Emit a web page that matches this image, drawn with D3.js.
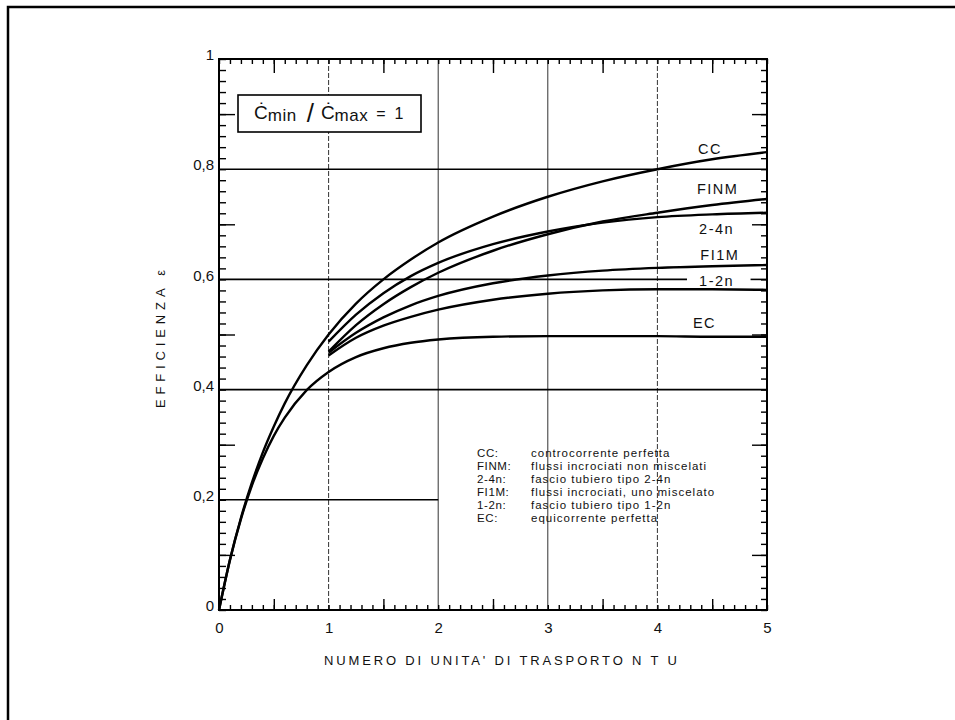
<!DOCTYPE html>
<html lang="it">
<head>
    <meta charset="UTF-8">
    <title>Efficienza scambiatori - NTU</title>
    <script src="https://d3js.org/d3.v7.min.js"></script>
    <style>
        body { margin: 0; background: #fff; }
        svg text { font-family: "Liberation Sans", Arial, sans-serif; fill: #111; }
    </style>
</head>
<body>
<script>
// valori (Cmin/Cmax = 1)
const ntuFull = [0, 0.1, 0.2, 0.3, 0.4, 0.5, 0.6, 0.8, 1, 1.25, 1.5, 1.75, 2, 2.5, 3, 3.5, 4, 4.5, 5];
const ccVals  = [0, 0.091, 0.167, 0.231, 0.286, 0.333, 0.375, 0.444, 0.5, 0.556, 0.6, 0.636, 0.667, 0.714, 0.75, 0.778, 0.8, 0.818, 0.831];
const ecVals  = [0, 0.091, 0.165, 0.226, 0.275, 0.316, 0.349, 0.399, 0.432, 0.459, 0.475, 0.485, 0.491, 0.496, 0.497, 0.497, 0.497, 0.496, 0.496];

// le altre curve partono da NTU = 1
const ntuLate  = [1, 1.25, 1.5, 1.75, 2, 2.5, 3, 3.5, 4, 4.5, 5];
const finmVals = [0.469, 0.517, 0.555, 0.586, 0.612, 0.652, 0.682, 0.705, 0.721, 0.735, 0.746];
const hx24Vals = [0.487, 0.536, 0.575, 0.606, 0.630, 0.664, 0.687, 0.703, 0.713, 0.718, 0.721];
const fi1mVals = [0.467, 0.503, 0.531, 0.553, 0.570, 0.593, 0.607, 0.616, 0.621, 0.624, 0.626];
const hx12Vals = [0.462, 0.494, 0.516, 0.532, 0.545, 0.563, 0.574, 0.580, 0.582, 0.582, 0.581];

const curveNames = ["CC", "FINM", "2-4n", "FI1M", "1-2n", "EC"];
const xTicks = [0, 1, 2, 3, 4, 5];
const yTicks = [0, 0.2, 0.4, 0.6, 0.8, 1];

const legendCodes = ["CC:", "FINM:", "2-4n:", "FI1M:", "1-2n:", "EC:"];
const legendTexts = [
    "controcorrente perfetta",
    "flussi incrociati non miscelati",
    "fascio tubiero tipo 2-4n",
    "flussi incrociati, uno miscelato",
    "fascio tubiero tipo 1-2n",
    "equicorrente perfetta"
];

const W = 955, H = 720;
const x = d3.scaleLinear([0, 5], [219, 767]);
const y = d3.scaleLinear([0, 1], [610, 59]);

const svg = d3.select("body").append("svg")
    .attr("width", W)
    .attr("height", H);

// cornice esterna (solo lati visibili)
svg.append("path")
    .attr("d", "M8,720 V7 H955")
    .attr("fill", "none")
    .attr("stroke", "#000")
    .attr("stroke-width", 2.5);

const plot = svg.append("g");

// griglia verticale
plot.selectAll("line.vgrid")
    .data([1, 2, 3, 4])
    .enter().append("line")
    .attr("class", "vgrid")
    .attr("x1", d => x(d)).attr("x2", d => x(d))
    .attr("y1", y(0)).attr("y2", y(1))
    .attr("stroke", "#333")
    .attr("stroke-width", 1)
    .attr("stroke-dasharray", d => (d === 1 || d === 4) ? "5,2" : null);

// griglia orizzontale (0,2 arriva solo a NTU 2, 0,6 interrotta dall'etichetta)
const hgrid = [[0.2, 0, 2], [0.4, 0, 5], [0.6, 0, 4.27], [0.6, 4.85, 5], [0.8, 0, 5]];
plot.selectAll("line.hgrid")
    .data(hgrid)
    .enter().append("line")
    .attr("class", "hgrid")
    .attr("x1", d => x(d[1])).attr("x2", d => x(d[2]))
    .attr("y1", d => y(d[0])).attr("y2", d => y(d[0]))
    .attr("stroke", "#000")
    .attr("stroke-width", 1.6);

// tacche: funzione comune
function ticks(axisFn, scale, values, size, tx, ty) {
    const g = plot.append("g")
        .attr("transform", `translate(${tx},${ty})`)
        .call(axisFn(scale).tickValues(values).tickSize(size).tickFormat(""));
    g.select(".domain").remove();
    g.selectAll(".tick line").attr("stroke", "#000").attr("stroke-width", 1.4);
}
const minorY = d3.range(0, 1.0001, 0.02).map(v => +v.toFixed(2));
const majorY = [0.1, 0.3, 0.5, 0.7, 0.9];
const minorX = d3.range(0, 5.0001, 0.1).map(v => +v.toFixed(1));
const majorX = [0.5, 1.5, 2.5, 3.5, 4.5];

ticks(d3.axisLeft, y, minorY, -7, x(0), 0);
ticks(d3.axisLeft, y, majorY, -16, x(0), 0);
ticks(d3.axisRight, y, minorY, -6, x(5), 0);
ticks(d3.axisRight, y, majorY, -15, x(5), 0);
ticks(d3.axisBottom, x, minorX, -5, 0, y(0));
ticks(d3.axisBottom, x, majorX, -11, 0, y(0));
ticks(d3.axisTop, x, minorX, -5, 0, y(1));
ticks(d3.axisTop, x, majorX, -14, 0, y(1));

// riquadro dell'area del grafico
plot.append("rect")
    .attr("x", x(0)).attr("y", y(1))
    .attr("width", x(5) - x(0)).attr("height", y(0) - y(1))
    .attr("fill", "none")
    .attr("stroke", "#000")
    .attr("stroke-width", 2);

// etichette degli assi
const fmt = d => String(d).replace(".", ",");
const xAxis = svg.append("g")
    .attr("transform", `translate(0,${y(0)})`)
    .call(d3.axisBottom(x).tickValues(xTicks).tickSize(0).tickPadding(12).tickFormat(fmt));
xAxis.select(".domain").remove();
xAxis.selectAll("text").attr("font-size", 15).attr("font-family", "Liberation Sans, Arial, sans-serif");

const yAxis = svg.append("g")
    .attr("transform", `translate(${x(0)},0)`)
    .call(d3.axisLeft(y).tickValues(yTicks).tickSize(0).tickPadding(5).tickFormat(fmt));
yAxis.select(".domain").remove();
yAxis.selectAll("text").attr("font-size", 15).attr("dy", "0.05em")
    .attr("font-family", "Liberation Sans, Arial, sans-serif");

svg.append("text")
    .attr("x", 324).attr("y", 665)
    .attr("font-size", 13)
    .attr("textLength", 353).attr("lengthAdjust", "spacing")
    .text("NUMERO DI UNITA' DI TRASPORTO  N T U");

svg.append("text")
    .attr("transform", "translate(165,408) rotate(-90)")
    .attr("font-size", 13)
    .attr("textLength", 138).attr("lengthAdjust", "spacing")
    .text("EFFICIENZA   \u03b5");

// curve
const line = d3.line()
    .x(d => x(d[0]))
    .y(d => y(d[1]))
    .curve(d3.curveMonotoneX);

const series = [
    d3.zip(ntuFull, ccVals),
    d3.zip(ntuLate, finmVals),
    d3.zip(ntuLate, hx24Vals),
    d3.zip(ntuLate, fi1mVals),
    d3.zip(ntuLate, hx12Vals),
    d3.zip(ntuFull, ecVals)
];

plot.selectAll("path.curve")
    .data(series)
    .enter().append("path")
    .attr("class", "curve")
    .attr("d", line)
    .attr("fill", "none")
    .attr("stroke", "#000")
    .attr("stroke-width", 2.4);

// nomi delle curve sul lato destro
const labelAt = [[4.48, 0.837], [4.55, 0.765], [4.54, 0.692], [4.57, 0.645], [4.54, 0.598], [4.43, 0.522]];
svg.selectAll("text.cname")
    .data(curveNames)
    .enter().append("text")
    .attr("class", "cname")
    .attr("x", (d, i) => x(labelAt[i][0]))
    .attr("y", (d, i) => y(labelAt[i][1]))
    .attr("dy", "0.36em")
    .attr("text-anchor", "middle")
    .attr("font-size", 14.5)
    .attr("letter-spacing", 1.5)
    .text(d => d);

// riquadro Cmin / Cmax
const box = svg.append("g");
box.append("rect")
    .attr("x", 238).attr("y", 95)
    .attr("width", 183).attr("height", 37)
    .attr("fill", "#fff")
    .attr("stroke", "#000")
    .attr("stroke-width", 1.6);
const bt = box.append("text").attr("x", 254).attr("y", 119).attr("font-size", 19);
bt.append("tspan").text("\u010a");
bt.append("tspan").attr("font-size", 17).attr("letter-spacing", 0.5).attr("dy", 2).text("min");
bt.append("tspan").attr("font-size", 26).attr("dx", 10).attr("dy", 1).text("/");
bt.append("tspan").attr("dx", 7).attr("dy", -3).text("\u010a");
bt.append("tspan").attr("font-size", 17).attr("letter-spacing", 0.5).attr("dy", 2).text("max");
bt.append("tspan").attr("font-size", 16).attr("dx", 8).attr("dy", -2).text("=");
bt.append("tspan").attr("font-size", 16).attr("dx", 9).text("1");

// legenda
const leg = svg.append("g");
leg.selectAll("text.code")
    .data(legendCodes)
    .enter().append("text")
    .attr("class", "code")
    .attr("x", 477)
    .attr("y", (d, i) => 457 + i * 13)
    .attr("font-size", 11.5)
    .attr("letter-spacing", 0.6)
    .text(d => d);
leg.selectAll("text.desc")
    .data(legendTexts)
    .enter().append("text")
    .attr("class", "desc")
    .attr("x", 531)
    .attr("y", (d, i) => 457 + i * 13)
    .attr("font-size", 11.5)
    .attr("letter-spacing", 1.0)
    .text(d => d);
</script>
</body>
</html>
